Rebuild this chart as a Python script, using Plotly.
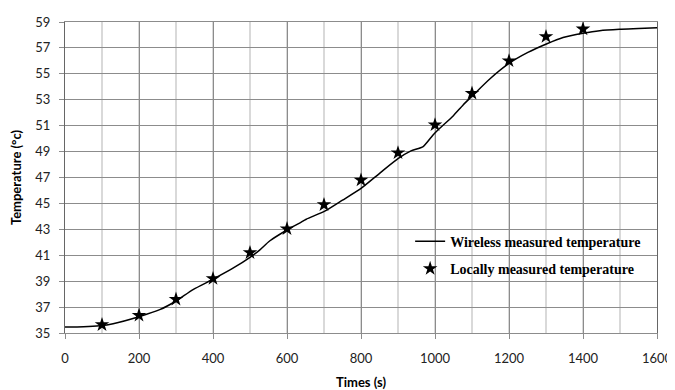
import plotly.graph_objects as go

# Wireless measured temperature (continuous curve)
wireless_t = [0, 50, 94, 130, 202, 256, 299, 346, 400, 454, 501, 526, 553, 600, 634, 652, 702,
              750, 801, 851, 900, 935, 968, 999, 1049, 1076, 1101, 1148, 1200, 1251, 1301,
              1346, 1400, 1445, 1499, 1550, 1600]
wireless_T = [35.46, 35.48, 35.56, 35.72, 36.28, 36.8, 37.45, 38.35, 39.15, 40.0, 40.86, 41.4,
              42.1, 42.95, 43.48, 43.78, 44.4, 45.25, 46.18, 47.34, 48.45, 49.05, 49.39, 50.42,
              51.75, 52.6, 53.3, 54.6, 55.8, 56.65, 57.3, 57.8, 58.13, 58.33, 58.44, 58.5, 58.56]

# Locally measured temperature (stars)
local_t = [100, 200, 300, 400, 500, 600, 700, 800, 900, 1000, 1100, 1200, 1300, 1400]
local_T = [35.64, 36.36, 37.6, 39.2, 41.2, 43.04, 44.9, 46.8, 48.9, 51.06, 53.5, 56.0, 57.87, 58.46]

x_ticks = [0, 200, 400, 600, 800, 1000, 1200, 1400, 1600]
y_ticks = [35, 37, 39, 41, 43, 45, 47, 49, 51, 53, 55, 57, 59]

fig = go.Figure()
fig.add_trace(go.Scatter(
    x=wireless_t, y=wireless_T, mode="lines", name="Wireless measured temperature",
    line=dict(color="black", width=1.5, shape="spline", smoothing=0.6),
    legendgroup="a",
))
fig.add_trace(go.Scatter(
    x=local_t, y=local_T, mode="markers", name="Locally measured temperature",
    marker=dict(symbol="star", size=11, color="black"),
    legendgroup="b",
))

grid_dark = "#8c8c8c"
grid_light = "#d9d9d9"
tick_font = dict(family="Lato", size=13, color="#222")

fig.update_layout(
    width=667, height=382,
    margin=dict(l=57, r=18, t=14, b=57),
    paper_bgcolor="white", plot_bgcolor="white",
    showlegend=True,
    legend=dict(
        x=0.583, y=0.345, xanchor="left", yanchor="top",
        bgcolor="rgba(0,0,0,0)",
        font=dict(family="Liberation Serif", size=14, color="black", weight="bold"),
        tracegroupgap=6, itemwidth=30,
    ),
    xaxis=dict(
        range=[0, 1600], tickvals=x_ticks, ticktext=[str(v) for v in x_ticks],
        showgrid=True, gridcolor=grid_dark, gridwidth=1,
        minor=dict(dtick=100, tick0=0, showgrid=True, gridcolor=grid_light, gridwidth=2),
        showline=True, linecolor=grid_dark, linewidth=1, mirror=True,
        ticks="outside", ticklen=5, tickcolor=grid_dark,
        tickfont=tick_font, ticklabelstandoff=8,
        zeroline=False, automargin=False,
        title=dict(text="Times (s)", font=dict(family="Lato", size=13, color="black", weight="bold"),
                   standoff=15),
    ),
    yaxis=dict(
        range=[35, 59], tickvals=y_ticks, ticktext=[str(v) for v in y_ticks],
        showgrid=True, gridcolor=grid_dark, gridwidth=1,
        showline=True, linecolor="#666", linewidth=1, mirror=True,
        ticks="outside", ticklen=5, tickcolor=grid_dark,
        tickfont=tick_font, ticklabelstandoff=6,
        zeroline=False, automargin=False,
        title=dict(text="Temperature (°c)", font=dict(family="Lato", size=13, color="black", weight="bold"),
                   standoff=10),
    ),
    shapes=[dict(type="rect", xref="paper", yref="paper", x0=0.628, x1=0.998, y0=0.165, y1=0.338,
                 fillcolor="white", line=dict(width=0), layer="between")],
)

fig.write_html("out.html")
